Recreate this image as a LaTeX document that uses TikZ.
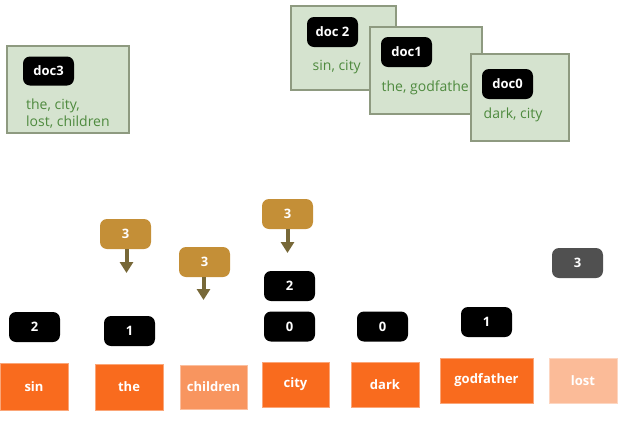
\documentclass[tikz,border=0pt]{standalone}
\usepackage{fontspec}
\setmainfont{Open Sans}
\usetikzlibrary{arrows.meta}
\definecolor{orng}{HTML}{F96B1E}
\definecolor{orngmid}{HTML}{F8955F}
\definecolor{orngpale}{HTML}{FBBB98}
\definecolor{docfill}{HTML}{D5E3CF}
\definecolor{docline}{HTML}{8E9A80}
\definecolor{doctext}{HTML}{4E8A3E}
\definecolor{gold}{HTML}{C48F37}
\definecolor{arrowcol}{HTML}{776838}
\definecolor{graybadge}{HTML}{505050}
\tikzset{
  term/.style={fill=orng, draw=orng!60!white, line width=0.6pt, text=white, inner sep=0pt, minimum height=45pt, font=\bfseries\fontsize{13}{16}\selectfont},
  badge/.style={fill=black, rounded corners=7pt, text=white, inner sep=0pt, minimum width=51pt, minimum height=30pt, font=\bfseries\fontsize{13}{15}\selectfont},
  goldbadge/.style={badge, fill=gold},
  graybadge/.style={badge, fill=graybadge},
  docbox/.style={fill=docfill, draw=docline, line width=1.5pt, inner sep=0pt},
  doctxt/.style={text=doctext, anchor=west, inner sep=0pt, align=left, font=\fontsize{14}{17}\selectfont},
  addarrow/.style={draw=arrowcol, line width=4pt, -{Triangle[width=13pt,length=11pt]}}
}
\begin{document}
\begin{tikzpicture}[x=1pt,y=-1pt]
\useasboundingbox (0,0) rectangle (625,421);
% documents
\node[docbox, minimum width=122pt, minimum height=87pt] (d3box) at (68,89.5) {};
\node[badge, minimum height=29pt] (d3lab) at (48.5,71) {doc3};
\node[doctxt] (d3txt) at (26,114) {the, city,\\lost, children};

\node[docbox, minimum width=105pt, minimum height=84pt] (d2box) at (343.5,48) {};
\node[badge] (d2lab) at (332.5,32) {doc 2};
\node[doctxt] (d2txt) at (312.5,67) {sin, city};

\node[docbox, minimum width=112pt, minimum height=87pt] (d1box) at (426,70.5) {};
\node[badge] (d1lab) at (406.5,52) {doc1};
\node[doctxt] (d1txt) at (381.5,88) {the, godfather};

\node[docbox, minimum width=98pt, minimum height=87pt] (d0box) at (520,97.5) {};
\node[badge] (d0lab) at (507.5,84) {doc0};
\node[doctxt] (d0txt) at (483.5,115) {dark, city};

% terms
\node[term, minimum width=68pt, minimum height=47pt] (sin) at (34,386.5) {sin};
\node[term, minimum width=68pt, minimum height=46pt] (the) at (129,387) {the};
\node[term, fill=orngmid, draw=orngmid!60!white, minimum width=67pt, minimum height=44pt] (children) at (213.5,387) {children};
\node[term, minimum width=67pt] (city) at (295.5,384.5) {city};
\node[term, minimum width=68pt] (dark) at (385,384.5) {dark};
\node[term, minimum width=93pt] (godfather) at (486.5,380.5) {godfather};
\node[term, fill=orngpale, draw=orngpale!60!white, minimum width=68pt] (lost) at (583,380.5) {lost};

% postings
\node[badge] (sinA) at (34.5,327) {2};
\node[badge] (theA) at (129.5,331) {1};
\node[badge] (cityA) at (289.5,326.5) {0};
\node[badge] (cityB) at (289.5,286) {2};
\node[badge] (darkA) at (382.5,326.5) {0};
\node[badge] (godA) at (486.5,322) {1};
\node[graybadge] (lostA) at (577.5,263) {3};

% incoming postings
\node[goldbadge] (theNew) at (125.5,234) {3};
\node[goldbadge] (childNew) at (204.5,262) {3};
\node[goldbadge] (cityNew) at (287.5,214) {3};
\coordinate (theEnd) at (126.5,273);
\coordinate (childEnd) at (203.5,300);
\coordinate (cityEnd) at (287.5,253);
\draw[addarrow] (theNew.south -| theEnd) -- (theEnd);
\draw[addarrow] (childNew.south -| childEnd) -- (childEnd);
\draw[addarrow] (cityNew.south) -- (cityEnd);
\end{tikzpicture}
\end{document}
